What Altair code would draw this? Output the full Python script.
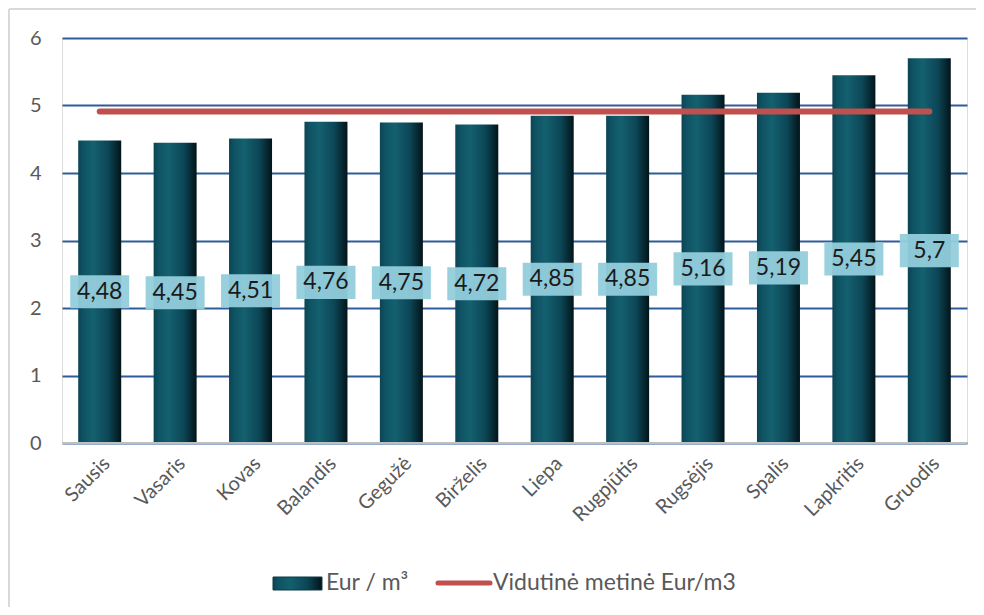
import altair as alt
import pandas as pd

months = ["Sausis", "Vasaris", "Kovas", "Balandis", "Gegužė", "Birželis",
          "Liepa", "Rugpjūtis", "Rugsėjis", "Spalis", "Lapkritis", "Gruodis"]
values = [4.48, 4.45, 4.51, 4.76, 4.75, 4.72, 4.85, 4.85, 5.16, 5.19, 5.45, 5.7]
average = 4.91
y_ticks = [0, 1, 2, 3, 4, 5, 6]

FONT = "Lato"
df = pd.DataFrame({"month": months, "value": values,
                   "label": [f"{v:g}".replace(".", ",") for v in values]})
avg_df = pd.DataFrame({"month": [months[0], months[-1]], "avg": [average, average]})

x = alt.X("month:N", sort=months, title=None,
          scale=alt.Scale(paddingInner=0.43, paddingOuter=0.215),
          axis=alt.Axis(labelAngle=-45, labelFontSize=20, labelColor="#595959",
                        labelFont=FONT, ticks=False, domain=False, labelPadding=10))
yscale = alt.Scale(domain=[0, 6], nice=False)

base = alt.Chart(df)

bar_fill = {"gradient": "linear", "x1": 0, "y1": 0, "x2": 1, "y2": 0,
            "stops": [{"offset": 0, "color": "#0b4453"},
                      {"offset": 0.12, "color": "#0f5364"},
                      {"offset": 0.35, "color": "#14606f"},
                      {"offset": 0.7, "color": "#0c4656"},
                      {"offset": 1, "color": "#021419"}]}

bars = base.mark_bar(width=43, fill=bar_fill).encode(
    x=x,
    y=alt.Y("value:Q", scale=yscale, title=None,
            axis=alt.Axis(values=y_ticks, format="d", grid=True, gridColor="#2E5C9A",
                          gridWidth=2, domain=False, ticks=False, labelFontSize=20,
                          labelColor="#595959", labelFont=FONT, labelPadding=21)),
)

zero_line = alt.Chart(pd.DataFrame({"z": [0]})).mark_rule(color="#BFBFBF", strokeWidth=2).encode(
    y=alt.Y("z:Q", scale=yscale), x=alt.value(0), x2=alt.value(905))

avg_line = alt.Chart(avg_df).mark_line(color="#C0504D", strokeWidth=6, strokeCap="round").encode(
    x=alt.X("month:N", sort=months), y=alt.Y("avg:Q", scale=yscale))

label_boxes = base.transform_calculate(
    lo="datum.value/2 - 0.245", hi="datum.value/2 + 0.245"
).mark_bar(width=59, color="#92CDDC", opacity=0.95).encode(
    x=alt.X("month:N", sort=months), y=alt.Y("lo:Q", scale=yscale), y2="hi:Q")

label_text = base.transform_calculate(mid="datum.value/2").mark_text(
    font=FONT, fontSize=23, color="#1a1a1a", baseline="middle").encode(
    x=alt.X("month:N", sort=months), y=alt.Y("mid:Q", scale=yscale), text="label:N")

frame = alt.Chart(pd.DataFrame({"a": [0]})).mark_rule(color="#D9D9D9", strokeWidth=2)
frame_top = frame.encode(x=alt.value(-53), x2=alt.value(930), y=alt.value(-29))
frame_left = frame.encode(x=alt.value(-53), y=alt.value(-29), y2=alt.value(580))

leg = alt.Chart(pd.DataFrame({"a": [0]}))
leg_rect = leg.mark_rect(fill=bar_fill, stroke="#0a3a46").encode(
    x=alt.value(211), x2=alt.value(260), y=alt.value(539), y2=alt.value(552))
leg_text1 = leg.mark_text(align="left", baseline="middle", font=FONT, fontSize=23,
                          color="#595959", text="Eur / m³").encode(
    x=alt.value(264), y=alt.value(545))
leg_line = leg.mark_rule(color="#C0504D", strokeWidth=5, strokeCap="round").encode(
    x=alt.value(376), x2=alt.value(428), y=alt.value(545))
leg_text2 = leg.mark_text(align="left", baseline="middle", font=FONT, fontSize=23,
                          color="#595959", text="Vidutinė metinė Eur/m3").encode(
    x=alt.value(431), y=alt.value(545))

chart = alt.layer(
    bars, zero_line, label_boxes, label_text, avg_line,
    frame_top, frame_left, leg_rect, leg_text1, leg_line, leg_text2
).properties(
    width=905, height=405,
    autosize=alt.AutoSizeParams(type="none"),
    padding={"left": 54, "top": 30, "right": 9, "bottom": 164},
).configure_view(stroke=None).configure(background="white")

chart.save("out.html", embed_options={"renderer": "svg", "actions": False})
